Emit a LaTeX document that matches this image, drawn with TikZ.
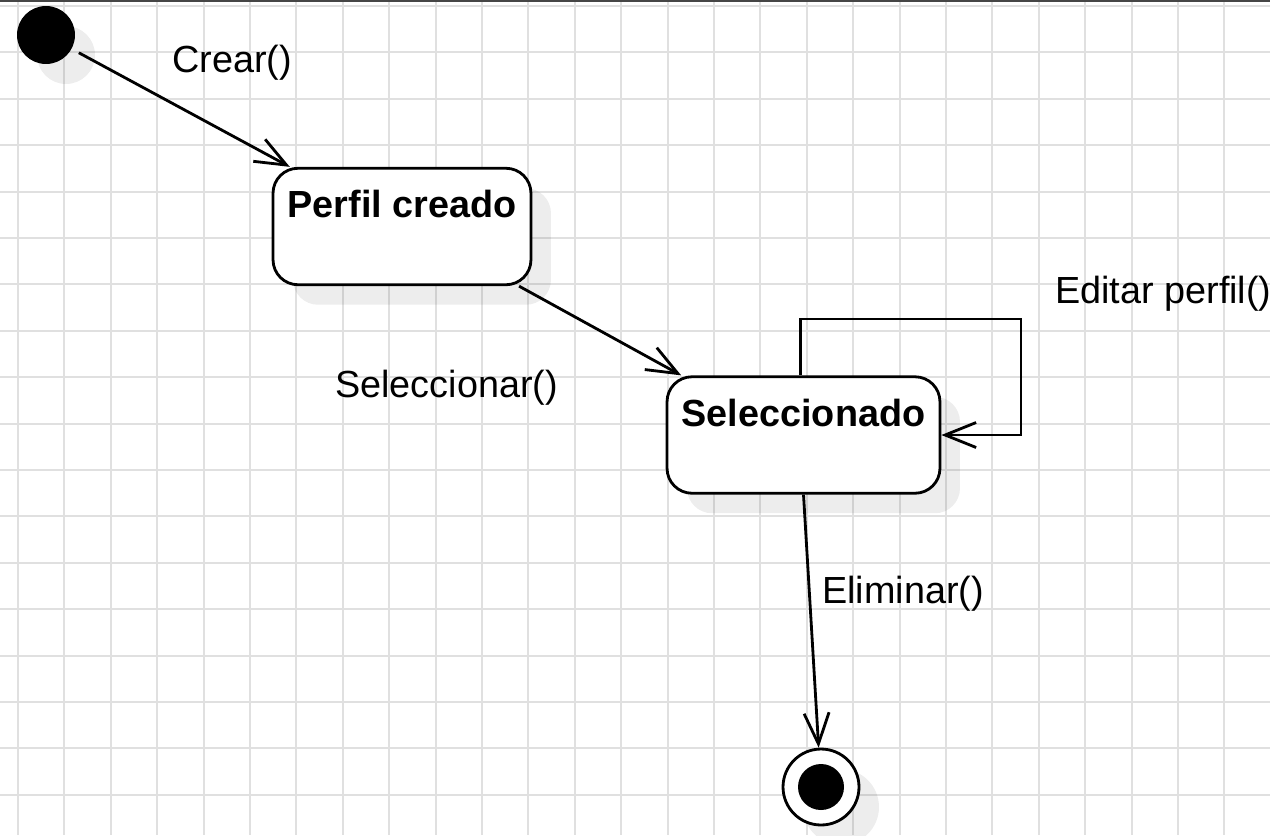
\documentclass[tikz,border=0pt]{standalone}
\usepackage{fontspec}
\setmainfont{Liberation Sans}
\usetikzlibrary{arrows.meta,shadows}
\definecolor{gridgray}{RGB}{224,224,224}
\definecolor{topgray}{RGB}{70,70,70}
\tikzset{
	statebox/.style={draw,fill=white,line width=1.6pt,rounded corners=0.5cm,
		minimum height=2.33cm,inner sep=0pt,
		text height=0.54cm,text depth=0.89cm,
		font=\fontsize{21.5pt}{26pt}\selectfont\bfseries,
		drop shadow={shadow xshift=0.4cm,shadow yshift=-0.4cm,fill=black,opacity=0.07}},
	lbl/.style={anchor=base west,inner sep=0pt,font=\fontsize{21.5pt}{26pt}\selectfont},
	trans/.style={->,line width=1.6pt}
}
\begin{document}
\begin{tikzpicture}[x=0.02cm,y=-0.02cm,>={Straight Barb[length=0.62cm,width=0.5cm]}]
	\useasboundingbox (0,0) rectangle (1270,835);
	\fill[white] (0,0) rectangle (1270,835);
	% grid
	\foreach \i in {0,...,27}
		\draw[gridgray,line width=1.1pt] ({18+46.4*\i},0) -- ({18+46.4*\i},835);
	\foreach \j in {0,...,17}
		\draw[gridgray,line width=1.1pt] (0,{6+46.4*\j}) -- (1270,{6+46.4*\j});
	\draw[topgray,line width=0.9pt] (0,0.8) -- (1270,0.8);
	% states
	\node[circle,fill=black,minimum size=1.16cm,inner sep=0pt,
		drop shadow={shadow xshift=0.4cm,shadow yshift=-0.4cm,fill=black,opacity=0.07}] (init) at (46,35) {};
	\node[statebox,minimum width=5.16cm] (perfil) at (402,226.5) {Perfil creado};
	\node[statebox,minimum width=5.46cm] (sel) at (803.5,435) {Seleccionado};
	\node[circle,draw,fill=white,line width=1.6pt,minimum size=1.52cm,inner sep=0pt,
		drop shadow={shadow xshift=0.4cm,shadow yshift=-0.4cm,fill=black,opacity=0.07}] (fin) at (821,787) {};
	\node[circle,fill=black,minimum size=0.92cm,inner sep=0pt] (finin) at (fin) {};
	\coordinate (loop) at (1021,319);
	% transitions
	\draw[trans,shorten <=0.16cm] (init) -- (perfil.152);
	\draw[trans] (perfil.-27) -- (sel.154.5);
	\draw[trans] ([xshift=-0.06cm]sel.north) |- (loop) |- (sel.east);
	\draw[trans] (sel.south) -- (fin);
	% labels
	\node[lbl] (crear) at (172,72) {Crear()};
	\node[lbl] (selecc) at (335,397) {Seleccionar()};
	\node[lbl] (editar) at (1055,303) {Editar perfil()};
	\node[lbl] (elim) at (822,603) {Eliminar()};
\end{tikzpicture}
\end{document}
